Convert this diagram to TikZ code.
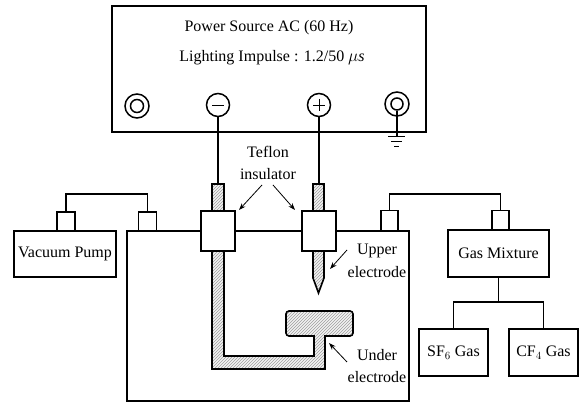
\documentclass[tikz,border=0pt]{standalone}
\usepackage{fontspec}
\setmainfont{Liberation Serif}
\usetikzlibrary{patterns,arrows.meta}
\tikzset{
  ln/.style={line width=1.4pt,black},
  lbl/.style={font=\fontsize{16}{18}\selectfont,inner sep=0pt,align=center},
  boxn/.style={draw,line width=1.6pt,fill=white,inner sep=0pt},
  hatched/.style={draw,line width=1.6pt,preaction={fill=gray!10},pattern=north east lines,pattern color=black!38},
  pointer/.style={-{Stealth[length=7pt,width=5pt]},line width=.8pt},
  ring/.style={circle,draw,line width=1.5pt,inner sep=0pt},
}
\begin{document}
\begin{tikzpicture}[x=1pt,y=-1pt]
\useasboundingbox (0,0) rectangle (582,403);
% power source
\node[boxn,minimum width=314pt,minimum height=126pt,anchor=north west] (ps) at (111,5) {};
\node[lbl] (t1) at (269,28) {Power Source AC (60 Hz)};
\node[lbl] (t2) at (272,58) {Lighting Impulse : 1.2/50 $\mu$\textit{s}};
% terminals
\node[ring,minimum size=24pt] (c1) at (137,106) {};
\node[ring,minimum size=13pt] at (137,106) {};
\node[ring,minimum size=23pt] (minus) at (218,105) {};
\draw[line width=.8pt] (212,105) -- (224,105);
\node[ring,minimum size=23pt] (plus) at (319,105) {};
\draw[line width=.8pt] (313,105) -- (325,105) (319,99) -- (319,111);
\node[ring,minimum size=24pt] (g) at (397,104) {};
\node[ring,minimum size=12pt] (gi) at (397,104) {};
\coordinate (gnd) at (397,137);
\draw[ln] (gi.south) -- (gnd);
\draw[line width=1pt] (388,137) -- (405,137) (391,142) -- (402,142) (394,147) -- (399,147);
% chamber
\draw[line width=1.6pt] (127,231) rectangle (409,401);
% hatched rods
\draw[hatched] (212,184) rectangle (224,211);
\draw[hatched] (313,184) rectangle (324,211);
\draw[hatched] (212,251) -- (212,369) -- (325,369) -- (325,336)
   -- (349,336) [rounded corners=3pt] -- (353,336) -- (353,311) -- (286,311) -- (286,336) [sharp corners] -- (314,336) -- (314,356) -- (224,356) -- (224,251) -- cycle;
\draw[hatched] (313,251) -- (313,278) -- (318.5,293) -- (324,278) -- (324,251) -- cycle;
% insulators
\node[boxn,minimum width=34pt,minimum height=40pt] (ins1) at (218,231) {};
\node[boxn,minimum width=34pt,minimum height=40pt] (ins2) at (319,231) {};
% wires to terminals
\coordinate (r1) at (218,184);
\coordinate (r2) at (319,184);
\draw[ln] (minus.south) -- (r1);
\draw[ln] (plus.south) -- (r2);
% teflon label
\node[lbl] (tef1) at (268,152) {Teflon};
\node[lbl] (tef2) at (268,174) {insulator};
\coordinate (a1) at (239,210);
\coordinate (a2) at (295,210);
\draw[pointer] (262,185) -- (a1);
\draw[pointer] (273,185) -- (a2);
% ports
\node[boxn,minimum width=18pt,minimum height=19pt] (p1) at (66,221.5) {};
\node[boxn,minimum width=18pt,minimum height=19pt] (p2) at (147.5,221.5) {};
\node[boxn,minimum width=17pt,minimum height=20pt] (p3) at (389.5,220.5) {};
\node[boxn,minimum width=17pt,minimum height=20pt] (p4) at (500.5,220.5) {};
\draw[ln] (p1.north) -- (66,194) -- (147.5,194) -- (p2.north);
\draw[ln] (p3.north) -- (389.5,194) -- (500.5,194) -- (p4.north);
% equipment
\node[boxn,minimum width=102pt,minimum height=46pt,lbl] (vac) at (65,254) {Vacuum Pump};
\node[boxn,minimum width=101pt,minimum height=47pt,lbl] (gas) at (498.5,253.5) {Gas Mixture};
\node[boxn,minimum width=69pt,minimum height=47pt,lbl] (sf) at (453.5,352.5) {SF$_6$ Gas};
\node[boxn,minimum width=69pt,minimum height=47pt,lbl] (cf) at (543.5,352.5) {CF$_4$ Gas};
\draw[ln] (gas.south) -- (498.5,302);
\draw[ln] (sf.north) -- (453.5,302) -- (543.5,302) -- (cf.north);
% electrode labels
\node[lbl] (up1) at (377,251) {Upper};
\node[lbl] (up2) at (377,272) {electrode};
\node[lbl] (un1) at (377,355) {Under};
\node[lbl] (un2) at (377,377) {electrode};
\draw[pointer] (347,250) -- (330,269);
\draw[pointer] (347,362) -- (329,343);
\end{tikzpicture}
\end{document}
